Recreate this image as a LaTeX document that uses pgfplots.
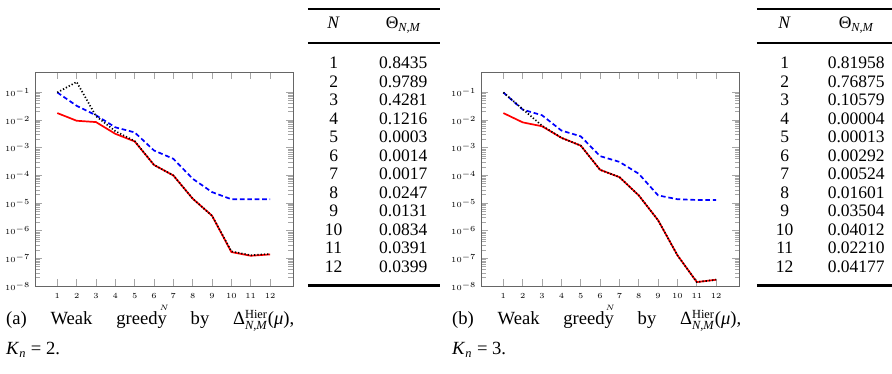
\documentclass[border=0pt]{standalone}
\usepackage[no-math]{fontspec}
\setmainfont{Liberation Serif}
\usepackage{amsmath}
\usepackage{pgfplots}
\pgfplotsset{compat=1.18}
\tikzset{
  redl/.style={red, line width=1.1pt},
  bluel/.style={blue, line width=1.1pt, dash pattern=on 3pt off 1.8pt},
  blackl/.style={black, line width=1.1pt, dash pattern=on 0.8pt off 1.3pt},
}

\begin{document}
\begin{tikzpicture}
\begin{scope}[x=0.641pt,y=-0.641pt, every node/.style={font=\fontsize{11.3}{13}\selectfont}]
\path[use as bounding box] (0,0) rectangle (892,376);
% ---- table (a)
\draw[line width=1.8pt] (304,9) -- (437,9);
\node[anchor=base] at (330,29) {\textit{N}};
\node[anchor=base] at (400,29) {Θ$_{\text{\itshape N,M}}$};
\draw[line width=1.1pt] (304,43) -- (437,43);
\foreach \v [count=\i] in {0.8435,0.9789,0.4281,0.1216,0.0003,0.0014,0.0017,0.0247,0.0131,0.0834,0.0391,0.0399} {
  \node[anchor=base] at (330,{69+18.64*(\i-1)}) {\i};
  \node[anchor=base] at (400,{69+18.64*(\i-1)}) {\v};
}
\draw[line width=1.8pt] (304,287) -- (437,287);
% ---- table (b)
\draw[line width=1.8pt] (756,9) -- (892,9);
\node[anchor=base] at (784,29) {\textit{N}};
\node[anchor=base] at (856,29) {Θ$_{\text{\itshape N,M}}$};
\draw[line width=1.1pt] (756,43) -- (892,43);
\foreach \v [count=\i] in {0.81958,0.76875,0.10579,0.00004,0.00013,0.00292,0.00524,0.01601,0.03504,0.04012,0.02210,0.04177} {
  \node[anchor=base] at (784,{69+18.64*(\i-1)}) {\i};
  \node[anchor=base] at (856,{69+18.64*(\i-1)}) {\v};
}
\draw[line width=1.8pt] (756,287) -- (892,287);
% ---- captions
\node[anchor=base west, inner sep=0pt] at (0,327) {\large\makebox[185.9pt][s]{(a) Weak greedy by Δ$^{\text{Hier}}_{\text{\itshape N,M}}$(\textit{μ}),}};
\node[anchor=base west, inner sep=0pt] at (0,357) {\large\textit{K}$_{\text{\itshape n}}$ = 2.};
\node[anchor=base west, inner sep=0pt] at (449,327) {\large\makebox[186.5pt][s]{(b) Weak greedy by Δ$^{\text{Hier}}_{\text{\itshape N,M}}$(\textit{μ}),}};
\node[anchor=base west, inner sep=0pt] at (449,357) {\large\textit{K}$_{\text{\itshape n}}$ = 3.};
\end{scope}

% ---- plot (a)
\begin{axis}[at={(19.23pt,-184.6pt)},
  scale only axis, width=166pt, height=137.8pt, anchor=south west,
  ymode=log, ymin=1e-8, ymax=0.525, xmin=-0.12, xmax=13.18,
  xtick={1,2,3,4,5,6,7,8,9,10,11,12},
  ytick={1e-8,1e-7,1e-6,1e-5,1e-4,1e-3,1e-2,1e-1},
  axis line style={black!60},
  every tick/.style={black!35},
  tick align=inside,
  ticklabel style={font=\tiny},
  xticklabel style={yshift=-1.5pt},
  xlabel={$N$}, xlabel style={font=\tiny, yshift=2.5pt}]
\addplot[redl] coordinates {(1,1.8e-2) (2,9.5e-3) (3,8.5e-3) (4,3.2e-3) (5,1.7e-3) (6,2.4e-4) (7,1e-4) (8,1.45e-5) (9,3.5e-6) (10,1.7e-7) (11,1.25e-7) (12,1.4e-7)};
\addplot[bluel] coordinates {(1,0.1) (2,3.3e-2) (3,1.5e-2) (4,5.5e-3) (5,3.6e-3) (6,8e-4) (7,4e-4) (8,7.6e-5) (9,2.5e-5) (10,1.38e-5) (11,1.38e-5) (12,1.38e-5)};
\addplot[blackl] coordinates {(1,0.1) (2,0.24) (3,1.4e-2) (4,4e-3) (5,1.75e-3) (6,2.4e-4) (7,1e-4) (8,1.45e-5) (9,3.5e-6) (10,1.8e-7) (11,1.3e-7) (12,1.45e-7)};
\end{axis}

% ---- plot (b)
\begin{axis}[at={(307.04pt,-184.6pt)},
  scale only axis, width=166pt, height=137.8pt, anchor=south west,
  ymode=log, ymin=1e-8, ymax=0.525, xmin=-0.12, xmax=13.18,
  xtick={1,2,3,4,5,6,7,8,9,10,11,12},
  ytick={1e-8,1e-7,1e-6,1e-5,1e-4,1e-3,1e-2,1e-1},
  axis line style={black!60},
  every tick/.style={black!35},
  tick align=inside,
  ticklabel style={font=\tiny},
  xticklabel style={yshift=-1.5pt},
  xlabel={$N$}, xlabel style={font=\tiny, yshift=2.5pt}]
\addplot[redl] coordinates {(1,1.8e-2) (2,8.3e-3) (3,6e-3) (4,2.3e-3) (5,1.2e-3) (6,1.6e-4) (7,8.7e-5) (8,1.9e-5) (9,2.4e-6) (10,1.3e-7) (11,1.4e-8) (12,1.7e-8)};
\addplot[bluel] coordinates {(1,0.1) (2,2.4e-2) (3,1.5e-2) (4,4.2e-3) (5,2.6e-3) (6,5e-4) (7,3.1e-4) (8,1.15e-4) (9,1.9e-5) (10,1.38e-5) (11,1.3e-5) (12,1.3e-5)};
\addplot[blackl] coordinates {(1,0.1) (2,2.5e-2) (3,6.3e-3) (4,2.3e-3) (5,1.2e-3) (6,1.6e-4) (7,8.7e-5) (8,1.9e-5) (9,2.4e-6) (10,1.3e-7) (11,1.4e-8) (12,1.7e-8)};
\end{axis}
\end{tikzpicture}
\end{document}
